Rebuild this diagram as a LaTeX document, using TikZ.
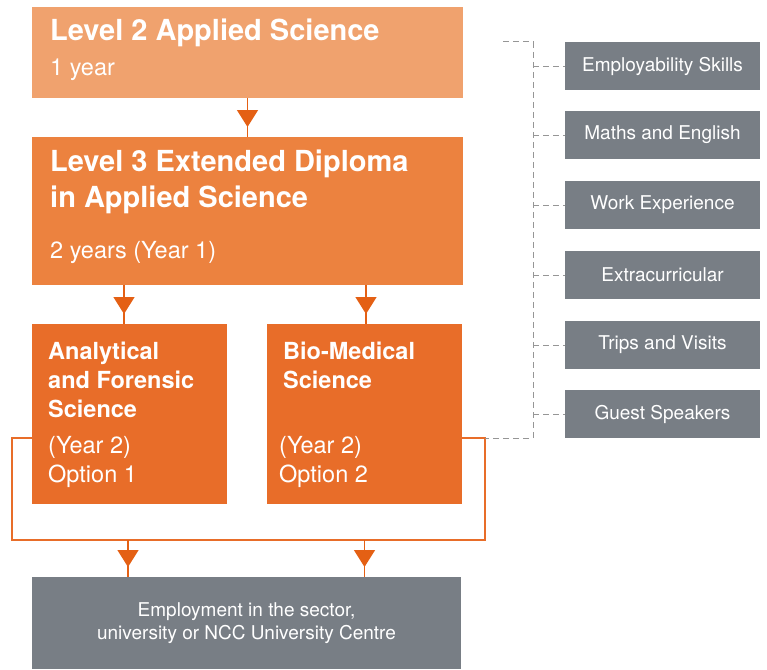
\documentclass[tikz,border=0pt]{standalone}
\usepackage{fontspec}
\setmainfont{TeX Gyre Heros}
\usetikzlibrary{arrows.meta,decorations.markings}
\definecolor{lvltwo}{RGB}{240,162,110}
\definecolor{lvlthree}{RGB}{236,130,63}
\definecolor{optorange}{RGB}{232,109,41}
\definecolor{tiporange}{RGB}{228,96,20}
\definecolor{slate}{RGB}{120,126,133}
\definecolor{dashgrey}{RGB}{150,150,150}

\tikzset{
  panel/.style={fill=#1, anchor=north west, inner sep=0pt, outer sep=0pt},
  title/.style={anchor=base west, inner sep=0pt, text=white, align=left,
    font=\bfseries\fontsize{29}{36}\selectfont},
  subtitle/.style={anchor=base west, inner sep=0pt, text=white, align=left,
    font=\bfseries\fontsize{23.5}{29}\selectfont},
  detail/.style={anchor=base west, inner sep=0pt, text=white, align=left,
    font=\fontsize{23.5}{29}\selectfont},
  extra/.style={panel=slate, text=white, minimum width=195pt, minimum height=48pt,
    font=\fontsize{19}{23}\selectfont},
  link/.style={draw=tiporange, line width=1.5pt, postaction={decorate},
    decoration={markings, mark=at position -10pt with {\arrow[tiporange]{Triangle[width=21pt,length=17pt]}}}},
  loopline/.style={draw=optorange, line width=1.5pt},
  bracket/.style={draw=dashgrey, line width=1pt, dash pattern=on 6pt off 4pt}
}

\begin{document}
\begin{tikzpicture}[x=1pt, y=-1pt]
  \useasboundingbox (0,0) rectangle (767,669);

  % course boxes
  \node[panel=lvltwo, minimum width=431pt, minimum height=91pt] (l2) at (32,7) {};
  \node[panel=lvlthree, minimum width=431pt, minimum height=148pt] (l3) at (32,137) {};
  \node[panel=optorange, minimum width=195pt, minimum height=180pt] (optA) at (32,324) {};
  \node[panel=optorange, minimum width=195pt, minimum height=180pt] (optB) at (267,324) {};
  \node[panel=slate, minimum width=429pt, minimum height=92pt, text=white, align=center,
    font=\fontsize{19}{23}\selectfont] (job) at (32,577)
    {Employment in the sector,\\university or NCC University Centre};

  % texts (base = last line)
  \node[title] (l2title) at (50,41) {Level 2 Applied Science};
  \node[detail] (l2years) at (50,75) {1 year};
  \node[title] (l3title) at (50,207) {Level 3 Extended Diploma\\in Applied Science};
  \node[detail] (l3years) at (50,258) {2 years (Year 1)};
  \node[subtitle] (optAtitle) at (48,417) {Analytical\\and Forensic\\Science};
  \node[detail] (optAyear) at (48,482) {(Year 2)\\Option 1};
  \node[subtitle] (optBtitle) at (283,388) {Bio-Medical\\Science};
  \node[detail] (optByear) at (279,482) {(Year 2)\\Option 2};

  % extras
  \foreach \name/\y/\txt in {skills/42/Employability Skills, maths/111/Maths and English,
      work/181/Work Experience, extracurr/251/Extracurricular,
      trips/321/Trips and Visits, guests/390/Guest Speakers}
    \node[extra] (\name) at (565,\y) {\txt};

  % route arrows
  \draw[link] (l2) -- (l3);
  \draw[link] ([xshift=-5.5pt]optA.north |- l3.south) -- ([xshift=-5.5pt]optA.north);
  \draw[link] ([xshift=1.5pt]optB.north |- l3.south) -- ([xshift=1.5pt]optB.north);

  \coordinate (loopNW) at (12,438);
  \coordinate (loopSW) at (12,540);
  \coordinate (loopSE) at (485,540);
  \coordinate (loopNE) at (485,438);
  \draw[loopline] (optA.west |- loopNW) -- (loopNW) -- (loopSW) -- (loopSE) -- (loopNE) -- (optB.east |- loopNE);
  \draw[link] ([xshift=-1.5pt]optA.south |- loopSW) -- ([xshift=-1.5pt]optA.south |- job.north);
  \draw[link] (optB.south |- loopSE) -- (optB.south |- job.north);

  % dashed bracket
  \coordinate (stubTop) at (503,42);
  \coordinate (spineTop) at (533,42);
  \coordinate (spineBot) at (533,438);
  \draw[bracket] (stubTop) -- (spineTop) -- (spineBot) -- (loopNE);
  \foreach \name in {skills,maths,work,extracurr,trips,guests}
    \draw[bracket] (spineTop |- \name.west) -- (\name.west);
\end{tikzpicture}
\end{document}
